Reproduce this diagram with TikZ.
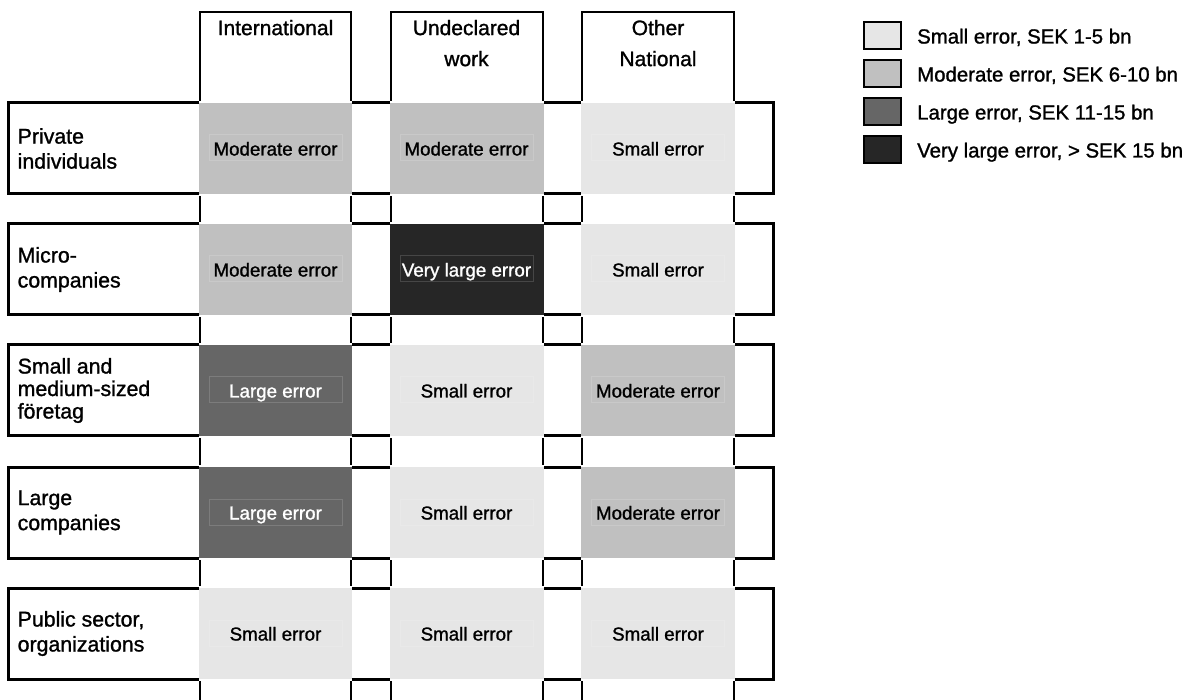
\documentclass[tikz,border=0pt]{standalone}
\usepackage{fontspec}
\setmainfont[FakeBold=1.2]{Liberation Sans}
\definecolor{smallc}{HTML}{E6E6E6}
\definecolor{modc}{HTML}{C0C0C0}
\definecolor{largec}{HTML}{666666}
\definecolor{vlargec}{HTML}{262626}
\tikzset{
  colline/.style={draw=black, line width=2.5pt, line join=miter},
  rowbox/.style={draw=black, line width=3pt, fill=white},
  celltext/.style={anchor=base, inner sep=0pt, font=\fontsize{18.75}{22}\selectfont},
  faintbox/.style={draw=white, draw opacity=0.15, line width=1pt},
  headtext/.style={anchor=north, inner sep=0pt, align=center, font=\fontsize{21}{31}\selectfont},
  rowtext/.style={anchor=west, inner sep=0pt, align=left, font=\fontsize{21.3}{25}\selectfont},
  legbox/.style={draw=black, line width=2.5pt, minimum width=37pt, minimum height=27pt, inner sep=0pt},
  legtext/.style={anchor=base west, inner sep=0pt, font=\fontsize{20.4}{24}\selectfont},
}
\newcommand\cellfill[5]{%
  \fill[white] (#1-1.3,#3-1.6) rectangle (#2+1.3,#4+1.6);
  \fill[#5] (#1-1.3,#3) rectangle (#2+1.3,#4);
}
\newcommand\cellbox[2]{%
  \draw[faintbox] (#1-66.5,#2-13.5) rectangle (#1+66.5,#2+12.5);
}
\begin{document}
\begin{tikzpicture}[x=1pt,y=-1pt]
\useasboundingbox (0,0) rectangle (1197,700);
\begin{scope}
\clip (0,0) rectangle (1197,700);
% column boxes
\draw[colline] (200,720) -- (200,12) -- (351,12) -- (351,720);
\draw[colline] (391,720) -- (391,12) -- (543,12) -- (543,720);
\draw[colline] (582,720) -- (582,12) -- (734,12) -- (734,720);
% row boxes
\draw[rowbox] (8,103) rectangle (773,194);
\draw[rowbox] (8,224) rectangle (773,315);
\draw[rowbox] (8,345) rectangle (773,436);
\draw[rowbox] (8,467) rectangle (773,558);
\draw[rowbox] (8,588) rectangle (773,679);
% cell fills
\cellfill{200}{351}{103}{194}{modc}
\cellfill{391}{543}{103}{194}{modc}
\cellfill{582}{734}{103}{194}{smallc}
\cellfill{200}{351}{224}{315}{modc}
\cellfill{391}{543}{224}{315}{vlargec}
\cellfill{582}{734}{224}{315}{smallc}
\cellfill{200}{351}{345}{436}{largec}
\cellfill{391}{543}{345}{436}{smallc}
\cellfill{582}{734}{345}{436}{modc}
\cellfill{200}{351}{467}{558}{largec}
\cellfill{391}{543}{467}{558}{smallc}
\cellfill{582}{734}{467}{558}{modc}
\cellfill{200}{351}{588}{679}{smallc}
\cellfill{391}{543}{588}{679}{smallc}
\cellfill{582}{734}{588}{679}{smallc}
% faint text boxes
\cellbox{275.5}{148.5}\cellbox{466.5}{148.5}\cellbox{658}{148.5}
\cellbox{275.5}{269.5}\cellbox{466.5}{269.5}\cellbox{658}{269.5}
\cellbox{275.5}{390.5}\cellbox{466.5}{390.5}\cellbox{658}{390.5}
\cellbox{275.5}{512.5}\cellbox{466.5}{512.5}\cellbox{658}{512.5}
\cellbox{275.5}{633.5}\cellbox{466.5}{633.5}\cellbox{658}{633.5}
\end{scope}
% headers
\node[headtext] (h1) at (275.5,19.7) {International};
\node[headtext] (h2) at (466.5,19.7) {Undeclared\\work};
\node[headtext] (h3) at (658,19.7) {Other\\National};
% row labels
\node[rowtext] (r1) at (17.5,148.5) {Private\\individuals};
\node[rowtext] (r2) at (17.5,269.5) {Micro-\\companies};
\node[rowtext, font=\fontsize{21.3}{22.5}\selectfont] (r3) at (17.5,390.5) {Small and\\medium-sized\\företag};
\node[rowtext] (r4) at (17.5,512.5) {Large\\companies};
\node[rowtext] (r5) at (17.5,633.5) {Public sector,\\organizations};
% cell texts
\node[celltext] (c11) at (275.5,155.5) {Moderate error};
\node[celltext] (c12) at (466.5,155.5) {Moderate error};
\node[celltext] (c13) at (658,155.5) {Small error};
\node[celltext] (c21) at (275.5,276.5) {Moderate error};
\node[celltext, text=white] (c22) at (466.5,276.5) {Very large error};
\node[celltext] (c23) at (658,276.5) {Small error};
\node[celltext, text=white] (c31) at (275.5,397.5) {Large error};
\node[celltext] (c32) at (466.5,397.5) {Small error};
\node[celltext] (c33) at (658,397.5) {Moderate error};
\node[celltext, text=white] (c41) at (275.5,519.5) {Large error};
\node[celltext] (c42) at (466.5,519.5) {Small error};
\node[celltext] (c43) at (658,519.5) {Moderate error};
\node[celltext] (c51) at (275.5,640.5) {Small error};
\node[celltext] (c52) at (466.5,640.5) {Small error};
\node[celltext] (c53) at (658,640.5) {Small error};
% legend
\node[legbox, fill=smallc] (lb1) at (882.5,35.5) {};
\node[legbox, fill=modc] (lb2) at (882.5,73.5) {};
\node[legbox, fill=largec] (lb3) at (882.5,111.5) {};
\node[legbox, fill=vlargec] (lb4) at (882.5,149.5) {};
\node[legtext] (lt1) at (917,43.5) {Small error, SEK 1-5 bn};
\node[legtext] (lt2) at (917,81.5) {Moderate error, SEK 6-10 bn};
\node[legtext] (lt3) at (917,119.5) {Large error, SEK 11-15 bn};
\node[legtext] (lt4) at (917,157.5) {Very large error, > SEK 15 bn};
\end{tikzpicture}
\end{document}
